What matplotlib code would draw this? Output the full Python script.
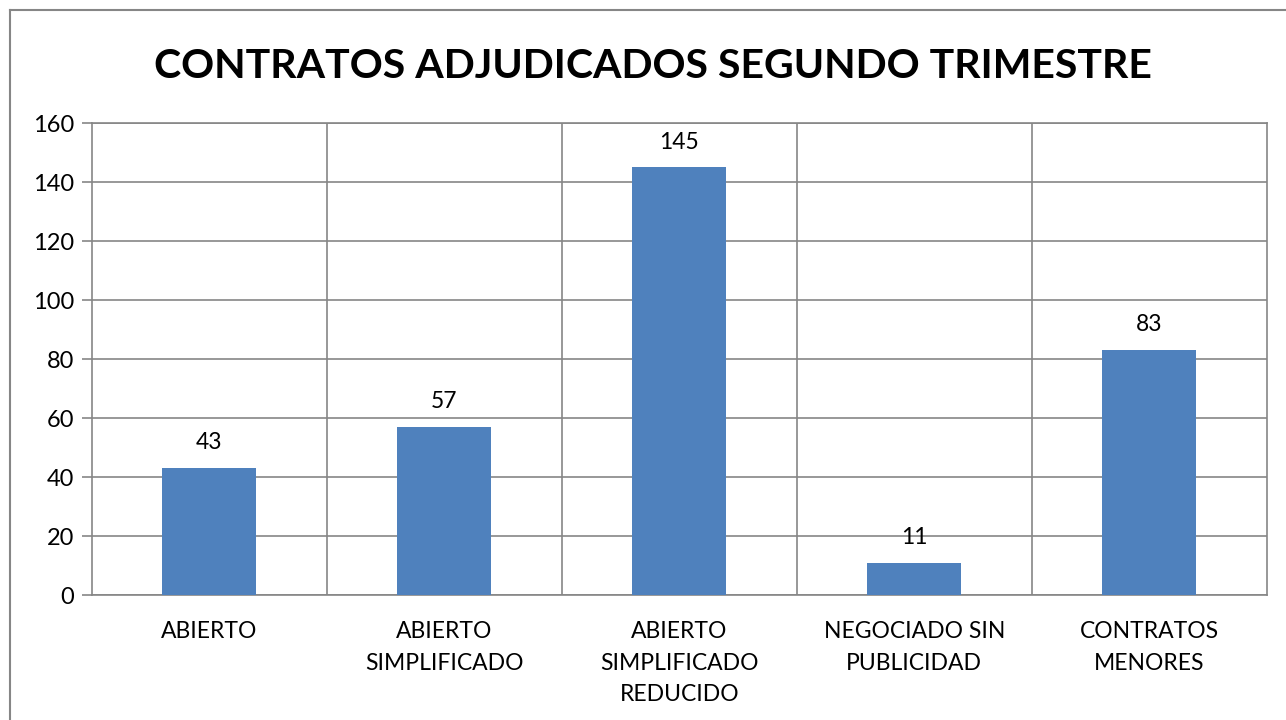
import matplotlib.pyplot as plt
import numpy as np

categories = ['ABIERTO', 'ABIERTO\nSIMPLIFICADO', 'ABIERTO\nSIMPLIFICADO\nREDUCIDO',
              'NEGOCIADO SIN\nPUBLICIDAD', 'CONTRATOS\nMENORES']
values = [43, 57, 145, 11, 83]

plt.rcParams['font.family'] = ['Lato', 'DejaVu Sans']

fig = plt.figure(figsize=(12.86, 7.2), dpi=100)
ax = fig.add_axes([0.0715, 0.1736, 0.9135, 0.6554])

x = np.arange(len(categories))
bars = ax.bar(x, values, width=0.4, color='#4F81BD', zorder=3)
for b, v in zip(bars, values):
    ax.text(b.get_x() + b.get_width() / 2, v + 5, str(v), ha='center', va='bottom',
            fontsize=16.5, color='black')

ax.set_xlim(-0.5, len(categories) - 0.5)
ax.set_ylim(0, 160)
ax.set_yticks(range(0, 161, 20))
ax.set_xticks(x)
ax.set_xticklabels(categories, fontsize=16.5, linespacing=1.6)
ax.tick_params(axis='y', labelsize=17, length=7, width=1.2, color='#868686', pad=6)
ax.tick_params(axis='x', length=0, pad=19)

# category separators and horizontal gridlines
ax.set_xticks(np.arange(0.5, len(categories) - 0.5), minor=True)
ax.tick_params(axis='x', which='minor', length=0)
ax.grid(True, which='minor', axis='x', color='#868686', linewidth=1.2, zorder=0)
ax.grid(True, which='major', axis='y', color='#868686', linewidth=1.2, zorder=0)

for s in ax.spines.values():
    s.set_color('#868686')
    s.set_linewidth(1.2)

fig.suptitle('CONTRATOS ADJUDICADOS SEGUNDO TRIMESTRE', fontsize=29.5, fontweight='bold',
             x=0.508, y=1 - 67 / 720, va='center')

# chart outer border
fig.add_artist(plt.Line2D([10 / 1286, 10 / 1286], [0, 1 - 10 / 720], color='#868686',
                          linewidth=1.5, transform=fig.transFigure))
fig.add_artist(plt.Line2D([10 / 1286, 1], [1 - 10 / 720, 1 - 10 / 720], color='#868686',
                          linewidth=1.5, transform=fig.transFigure))

fig.savefig('out.png', dpi=100)
